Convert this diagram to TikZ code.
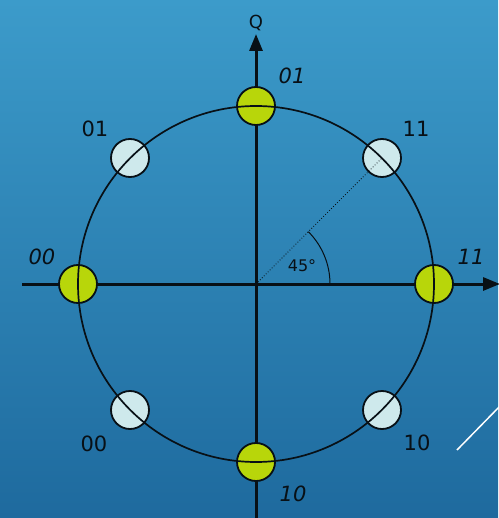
\documentclass[tikz,border=0pt]{standalone}
\usepackage{fontspec}
\setmainfont{DejaVu Sans}
\usetikzlibrary{arrows.meta}
\definecolor{bgtop}{RGB}{60,155,202}
\definecolor{bgbot}{RGB}{30,106,158}
\definecolor{ink}{RGB}{8,16,22}
\definecolor{lime}{RGB}{184,214,10}
\definecolor{pale}{RGB}{206,233,236}
\tikzset{
  axis/.style={draw=ink, line width=3pt, -{Triangle[length=17pt,width=13pt]}},
  ring/.style={draw=ink, line width=1.7pt},
  gdot/.style={circle, draw=ink, line width=1.8pt, fill=lime, minimum size=38pt, inner sep=0pt},
  pdot/.style={circle, draw=ink, line width=1.8pt, fill=pale, minimum size=38pt, inner sep=0pt},
  lbl/.style={inner sep=0pt, text=ink, font=\fontsize{21}{24}\selectfont},
  ilbl/.style={inner sep=0pt, text=ink, font=\fontsize{21}{24}\selectfont\itshape},
}
\begin{document}
\begin{tikzpicture}[x=1pt,y=-1pt]
\shade[top color=bgtop, bottom color=bgbot] (0,0) rectangle (498,518);
\useasboundingbox (0,0) rectangle (498,518);
\coordinate (O) at (256,284);
\coordinate (Xl) at (22,284);
\coordinate (Xr) at (500,284);
\coordinate (Yb) at (256,520);
\coordinate (Yt) at (256,34);
\draw[axis] (Xl) -- (Xr);
\draw[axis] (Yb) -- (Yt);
\node[inner sep=0pt, text=ink, font=\fontsize{18}{20}\selectfont] (q) at (256,23) {Q};
% dots
\node[gdot] (g01) at (256,106) {};
\node[gdot] (g00) at (78,284) {};
\node[gdot] (g11) at (434,284) {};
\node[gdot] (g10) at (256,462) {};
\node[pdot] (p01) at (130,158) {};
\node[pdot] (p11) at (382,158) {};
\node[pdot] (p00) at (130,410) {};
\node[pdot] (p10) at (382,410) {};
% circle on top
\draw[ring] (O) circle (178);
\draw[draw=ink, line width=0.8pt, dotted] (O) -- (p11.center);
\draw[draw=ink, line width=1pt] ([xshift=74pt]O) arc[start angle=0, end angle=-45, radius=74];
\node[inner sep=0pt, text=ink, font=\fontsize{16}{18}\selectfont] (ang) at (302,266) {45°};
% labels
\node[ilbl] (l01) at (292,76) {01};
\node[ilbl] (l00) at (42,257) {00};
\node[ilbl] (l11) at (471,257) {11};
\node[ilbl] (l10) at (293,494) {10};
\node[lbl] (u01) at (95,129) {01};
\node[lbl] (u11) at (416,129) {11};
\node[lbl] (u00) at (94,444) {00};
\node[lbl] (u10) at (417,443) {10};
% white stroke
\coordinate (w1) at (457,450);
\coordinate (w2) at (502,404);
\draw[white, line width=1.5pt] (w1) -- (w2);
\end{tikzpicture}
\end{document}
